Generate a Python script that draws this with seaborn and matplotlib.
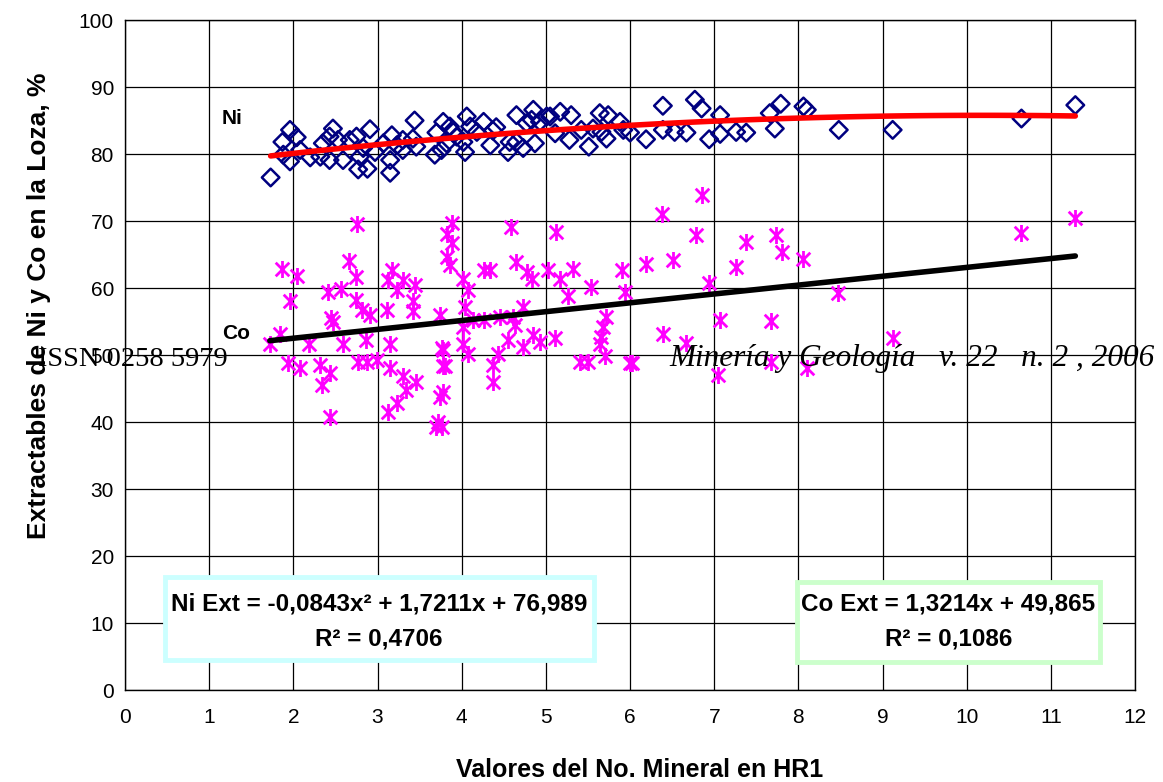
import numpy as np
import pandas as pd
import matplotlib
matplotlib.use("Agg")
import matplotlib.pyplot as plt
from matplotlib.path import Path
from matplotlib.patches import Rectangle
import seaborn as sns

# ---------------- data ----------------
ni_x = [1.73, 1.87, 1.96, 2.04, 1.96, 1.88, 2.08, 2.20, 2.32, 2.35, 2.47, 2.43, 2.43, 2.53,
        2.59, 2.67, 2.75, 2.79, 2.77, 2.88, 2.91, 2.83, 2.97, 3.07, 3.15, 3.15, 3.17, 3.23,
        3.30, 3.30, 3.44, 3.42, 3.46, 3.68, 3.70, 3.76, 3.78, 3.82, 3.86, 3.90, 3.94, 4.02,
        4.04, 4.06, 4.10, 4.18, 4.26, 4.34, 4.37, 4.41, 4.55, 4.57, 4.65, 4.65, 4.73, 4.77,
        4.83, 4.85, 4.87, 4.93, 5.01, 5.05, 5.11, 5.17, 5.28, 5.30, 5.42, 5.51, 5.56, 5.64,
        5.66, 5.72, 5.74, 5.88, 5.92, 6.00, 6.19, 6.39, 6.39, 6.53, 6.67, 6.77, 6.85, 6.94,
        7.07, 7.07, 7.26, 7.38, 7.66, 7.72, 7.79, 8.06, 8.10, 8.48, 9.12, 10.65, 11.29]
ni_y = [76.5, 81.8, 83.6, 82.5, 78.9, 79.9, 80.6, 79.5, 79.6, 81.6, 83.8, 82.6, 79.1, 82.1,
        79.1, 82.1, 82.6, 79.6, 77.7, 77.8, 83.7, 80.9, 80.3, 81.6, 77.2, 79.1, 82.8, 81.3,
        82.1, 80.6, 85.0, 82.3, 81.1, 79.9, 83.2, 80.6, 84.8, 81.6, 84.1, 83.3, 82.6, 81.8,
        80.3, 85.6, 84.1, 83.3, 84.8, 81.3, 83.5, 84.0, 80.3, 81.8, 85.8, 81.8, 80.9, 84.6,
        85.1, 86.6, 81.6, 84.8, 85.6, 85.6, 83.1, 86.3, 82.1, 85.8, 83.6, 81.1, 83.8, 86.1,
        83.3, 82.3, 85.8, 84.8, 83.6, 83.2, 82.2, 87.2, 83.6, 83.3, 83.2, 88.1, 86.8, 82.2,
        85.8, 83.0, 83.3, 83.2, 86.1, 83.8, 87.5, 87.1, 86.6, 83.6, 83.6, 85.3, 87.3]

co_x = [1.86, 2.04, 1.96, 1.72, 1.84, 1.94, 2.08, 2.18, 2.32, 2.43, 2.34, 2.43, 2.41, 2.45,
        2.47, 2.57, 2.59, 2.66, 2.74, 2.75, 2.81, 2.91, 2.86, 2.77, 2.87, 2.99, 3.11, 3.15,
        3.15, 3.17, 3.13, 3.23, 3.30, 3.44, 3.42, 3.42, 3.30, 3.34, 3.23, 3.46, 3.13, 3.74,
        3.76, 3.78, 3.74, 3.72, 3.70, 3.82, 3.82, 2.76,
        3.89, 3.89, 3.86, 4.02, 4.08, 4.04, 4.02, 4.02, 4.08, 3.78, 3.80, 3.78, 3.76, 4.59,
        4.26, 4.34, 4.64, 4.77, 4.83, 5.03, 5.12, 5.17, 5.32, 5.26, 5.54, 5.90, 5.94, 4.14,
        4.26, 4.45, 4.61, 4.73, 4.63, 4.85, 4.93, 5.11, 4.73, 4.55, 4.43, 4.37, 4.37, 5.72,
        5.68, 5.66, 5.64, 5.70, 5.40, 5.50, 6.00,
        6.85, 6.38, 6.78, 6.19, 6.51, 7.38, 7.73, 7.80, 7.26, 8.06, 6.94, 8.47, 6.39, 6.66,
        7.07, 7.68, 6.02, 7.05, 7.68, 8.10, 9.12, 10.65, 11.29]
co_y = [62.9, 61.8, 58.0, 51.7, 53.2, 48.8, 48.0, 51.7, 48.5, 47.3, 45.5, 40.8, 59.4, 55.5,
        55.0, 59.9, 51.7, 64.1, 61.7, 58.2, 56.7, 56.0, 52.2, 49.0, 49.0, 49.3, 56.7, 51.7,
        48.0, 62.7, 61.2, 59.7, 61.2, 60.4, 58.0, 56.5, 46.8, 44.8, 42.8, 46.0, 41.5, 56.0,
        51.0, 48.3, 43.8, 40.0, 39.3, 64.7, 68.1, 69.6,
        69.7, 66.7, 63.4, 61.4, 59.7, 57.2, 54.2, 51.7, 50.2, 50.7, 48.3, 44.5, 39.3, 69.1,
        62.7, 62.7, 63.9, 62.4, 61.4, 62.7, 68.4, 61.4, 62.9, 58.8, 60.2, 62.7, 59.4, 55.2,
        55.2, 55.7, 55.7, 57.2, 54.5, 53.0, 52.0, 52.5, 51.2, 52.2, 50.2, 48.5, 46.0, 55.7,
        54.2, 52.7, 51.7, 49.8, 49.0, 49.0, 48.8,
        73.9, 71.1, 67.9, 63.6, 64.2, 66.8, 67.9, 65.4, 63.2, 64.3, 60.7, 59.3, 53.1, 51.8,
        55.2, 55.1, 48.8, 47.0, 49.0, 48.1, 52.5, 68.2, 70.4]

ni_coef = [-0.0843, 1.7211, 76.989]   # Ni Ext = -0,0843x^2 + 1,7211x + 76,989
co_coef = [1.3214, 49.865]            # Co Ext = 1,3214x + 49,865
ni_r2 = "0,4706"
co_r2 = "0,1086"

x_ticks = list(range(0, 13))
y_ticks = list(range(0, 101, 10))

# ---------------- style ----------------
sns.set_theme(style="white")
plt.rcParams['font.family'] = ['Liberation Sans', 'DejaVu Sans']
plt.rcParams['text.color'] = 'black'
plt.rcParams['axes.labelcolor'] = 'black'
plt.rcParams['xtick.color'] = 'black'
plt.rcParams['ytick.color'] = 'black'

fig = plt.figure(figsize=(11.63, 7.82), dpi=100)
ax = fig.add_axes([0.1075, 0.1176, 0.8685, 0.8568])

# trend lines
tx = np.linspace(min(ni_x), max(ni_x), 100)
ni_df = pd.DataFrame({"x": tx, "y": np.polyval(ni_coef, tx)})
tc = np.linspace(min(co_x), max(co_x), 100)
co_df = pd.DataFrame({"x": tc, "y": np.polyval(co_coef, tc)})

# custom asterisk marker (vertical bar + X), like the Excel star marker
star = Path([(0, -1), (0, 1), (-0.8, -0.8), (0.8, 0.8), (-0.8, 0.8), (0.8, -0.8)],
            [Path.MOVETO, Path.LINETO, Path.MOVETO, Path.LINETO, Path.MOVETO, Path.LINETO])

sns.scatterplot(x=co_x, y=co_y, ax=ax, marker=star, s=150, color="#FF00FF",
                edgecolor="#FF00FF", linewidth=2.0, zorder=3)
sns.scatterplot(x=ni_x, y=ni_y, ax=ax, marker="D", s=80, facecolor="none",
                edgecolor="#000080", linewidth=1.8, zorder=3)
sns.lineplot(data=ni_df, x="x", y="y", ax=ax, color="#FF0000", linewidth=4, zorder=4)
sns.lineplot(data=co_df, x="x", y="y", ax=ax, color="#000000", linewidth=4, zorder=4)

ax.set_xlim(0, 12)
ax.set_ylim(0, 100)
ax.set_xticks(x_ticks)
ax.set_yticks(y_ticks)
ax.set_xticklabels([str(t) for t in x_ticks], fontsize=15)
ax.set_yticklabels([str(t) for t in y_ticks], fontsize=15)
ax.grid(True, color="black", linewidth=0.9)
ax.set_axisbelow(True)
for s in ax.spines.values():
    s.set_color("black")
    s.set_linewidth(1.0)
ax.tick_params(axis="x", direction="out", length=5, width=1, color="black", pad=8)
ax.tick_params(axis="y", direction="out", length=5, width=1, color="black", pad=3)

ax.set_xlabel("Valores del No. Mineral en HR1", fontsize=18, fontweight="bold")
ax.set_ylabel("Extractables de Ni y Co en la Loza, %", fontsize=19, fontweight="bold")
ax.xaxis.set_label_coords(0.509, -0.101, transform=ax.transAxes)
ax.yaxis.set_label_coords(-0.073, 0.573, transform=ax.transAxes)

ax.text(1.15, 85.3, "Ni", fontsize=15, fontweight="bold", ha="left", va="center")
ax.text(1.15, 53.2, "Co", fontsize=15, fontweight="bold", ha="left", va="center")

# equation boxes
ax.add_patch(Rectangle((0.47, 4.5), 5.1, 12.4, transform=ax.transData, fill=True,
                       facecolor="white", edgecolor="#CCFFFF", linewidth=3.5, zorder=5))
ax.text(3.02, 12.9, "Ni Ext = -0,0843x² + 1,7211x + 76,989", fontsize=17.5, fontweight="bold",
        ha="center", va="center", zorder=6)
ax.text(3.02, 7.6, "R² = " + ni_r2, fontsize=17.5, fontweight="bold",
        ha="center", va="center", zorder=6)

ax.add_patch(Rectangle((7.98, 4.2), 3.6, 11.9, transform=ax.transData, fill=True,
                       facecolor="white", edgecolor="#CCFFCC", linewidth=3.5, zorder=5))
ax.text(9.78, 12.8, "Co Ext = 1,3214x + 49,865", fontsize=17.5, fontweight="bold",
        ha="center", va="center", zorder=6)
ax.text(9.78, 7.6, "R² = " + co_r2, fontsize=17.5, fontweight="bold",
        ha="center", va="center", zorder=6)

# overlaid journal header text
fig.text(38 / 1163, 1 - 366 / 782, "ISSN 0258 5979", fontsize=20.5,
         family=["Liberation Serif", "DejaVu Serif"], ha="left", va="baseline", zorder=10)
fig.text(1155 / 1163, 1 - 366 / 782, "Minería y Geología   v. 22   n. 2 , 2006", fontsize=22.5,
         family=["Liberation Serif", "DejaVu Serif"], style="italic", ha="right",
         va="baseline", zorder=10)

fig.savefig("out.png", dpi=100)
